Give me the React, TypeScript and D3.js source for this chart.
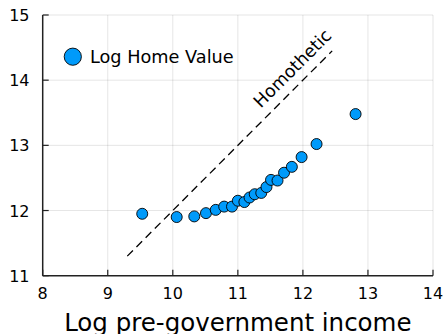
import React from "react";
import * as d3 from "d3";

const incomeX = [9.53, 10.06, 10.33, 10.51, 10.66, 10.79, 10.91, 11.0, 11.1, 11.18, 11.26, 11.36, 11.44, 11.51, 11.61, 11.71, 11.83, 11.98, 12.21, 12.81];
const homeValueY = [11.95, 11.9, 11.91, 11.96, 12.01, 12.06, 12.06, 12.15, 12.13, 12.2, 12.25, 12.27, 12.36, 12.47, 12.46, 12.58, 12.67, 12.82, 13.02, 13.48];
const homotheticX = [9.3, 12.45];
const homotheticOffset = 2;
const xTicks = [8, 9, 10, 11, 12, 13, 14];
const yTicks = [11, 12, 13, 14, 15];
const seriesLabel = "Log Home Value";
const xLabel = "Log pre-government income";
const lineLabel = "Homothetic";
const lineLabelPos = [11.84, 14.18];

const W = 445;
const H = 334;
const FONT = "DejaVu Sans, sans-serif";

export default function App() {
  const x = d3.scaleLinear().domain([8, 14]).range([42.7, 433]);
  const y = d3.scaleLinear().domain([11, 15]).range([275.7, 15]);
  const blue = "#009AFA";
  const line = d3.line<number>().x((d) => x(d)).y((d) => y(d + homotheticOffset));
  return (
    <svg width={W} height={H} style={{ position: "absolute", left: 0, top: 0, background: "#fff" }} fontFamily={FONT}>
      {xTicks.slice(1).map((t) => (
        <line key={"gx" + t} x1={x(t)} x2={x(t)} y1={y(11)} y2={y(15)} stroke="#000" strokeOpacity={0.1} strokeWidth={1} />
      ))}
      {yTicks.slice(1).map((t) => (
        <line key={"gy" + t} x1={x(8)} x2={x(14)} y1={y(t)} y2={y(t)} stroke="#000" strokeOpacity={0.1} strokeWidth={1} />
      ))}
      <line x1={x(8)} x2={x(14)} y1={y(11)} y2={y(11)} stroke="#222" strokeWidth={1.5} />
      <line x1={x(8)} x2={x(8)} y1={y(11)} y2={y(15)} stroke="#222" strokeWidth={1.5} />
      {xTicks.map((t) => (
        <g key={"tx" + t}>
          <line x1={x(t)} x2={x(t)} y1={y(11)} y2={y(11) - 6} stroke="#222" strokeWidth={1.2} />
          <text x={x(t)} y={299} textAnchor="middle" fontSize={16} fill="#000">{t}</text>
        </g>
      ))}
      {yTicks.map((t) => (
        <g key={"ty" + t}>
          <line x1={x(8)} x2={x(8) + 6} y1={y(t)} y2={y(t)} stroke="#222" strokeWidth={1.2} />
          <text x={29.5} y={y(t) + 6} textAnchor="end" fontSize={16} fill="#000">{t}</text>
        </g>
      ))}
      <path d={line(homotheticX) || ""} fill="none" stroke="#000" strokeWidth={1.3} strokeDasharray="8,5" />
      <text
        x={x(lineLabelPos[0])}
        y={y(lineLabelPos[1])}
        textAnchor="middle"
        dominantBaseline="central"
        fontSize={17.5}
        fill="#000"
        transform={`rotate(-45 ${x(lineLabelPos[0])} ${y(lineLabelPos[1])})`}
      >
        {lineLabel}
      </text>
      {incomeX.map((v, i) => (
        <circle key={i} cx={x(v)} cy={y(homeValueY[i])} r={5.5} fill={blue} stroke="#000" strokeWidth={0.9} />
      ))}
      <circle cx={72.8} cy={56.7} r={8.6} fill={blue} stroke="#000" strokeWidth={0.9} />
      <text x={90} y={63} fontSize={17.7} fill="#000">{seriesLabel}</text>
      <text x={(x(8) + x(14)) / 2} y={331} textAnchor="middle" fontSize={24.5} fill="#000">{xLabel}</text>
    </svg>
  );
}
